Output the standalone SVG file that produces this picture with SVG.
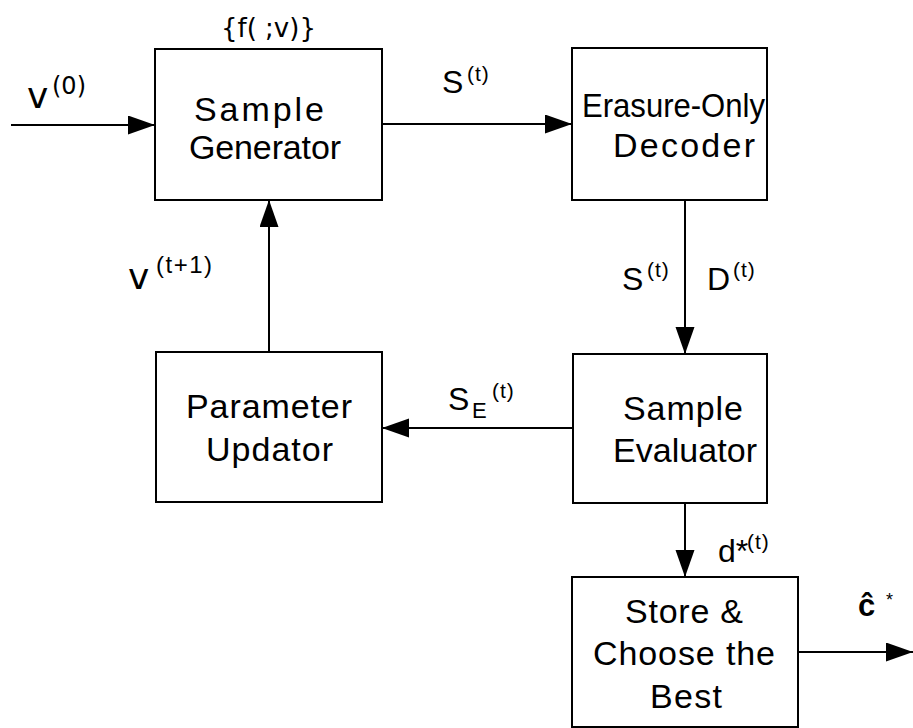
<svg xmlns="http://www.w3.org/2000/svg" width="913" height="728" viewBox="0 0 913 728">
<style>
.box{fill:#fff;stroke:#000;stroke-width:2}
.t{font-family:"Liberation Sans",Arial,sans-serif;font-size:34px;fill:#000}
.lb{font-family:"Liberation Sans",Arial,sans-serif;fill:#000}
.dv{font-family:"DejaVu Sans",sans-serif;fill:#000}
.c{stroke:#000;stroke-width:2;fill:none}
</style>
<defs>
<marker id="ah" markerUnits="userSpaceOnUse" markerWidth="28" markerHeight="20" refX="27" refY="9.5" orient="auto">
<path d="M0,0 L27,9.5 L0,19 z" fill="#000"/>
</marker>
</defs>
<g id="connectors">
<line class="c" x1="11" y1="125" x2="155" y2="125" marker-end="url(#ah)"/>
<line class="c" x1="382" y1="124" x2="572" y2="124" marker-end="url(#ah)"/>
<line class="c" x1="685" y1="200" x2="685" y2="354" marker-end="url(#ah)"/>
<line class="c" x1="573" y1="428" x2="382" y2="428" marker-end="url(#ah)"/>
<line class="c" x1="269" y1="352" x2="269" y2="200" marker-end="url(#ah)"/>
<line class="c" x1="685" y1="503" x2="685" y2="577" marker-end="url(#ah)"/>
<line class="c" x1="798" y1="652" x2="913" y2="652" marker-end="url(#ah)"/>
</g>
<g id="labels">
<text class="dv" x="221" y="37" font-size="26">{f( ;v)}</text>
<text class="dv" x="27" y="108" font-size="36">v</text>
<text class="dv" x="52" y="94" font-size="24">(0)</text>
<text class="lb" x="442" y="93" font-size="32">S</text>
<text class="lb" x="467" y="81" font-size="21" letter-spacing="1">(t)</text>
<text class="lb" x="622" y="290" font-size="32">S</text>
<text class="lb" x="647" y="277" font-size="21" letter-spacing="1">(t)</text>
<text class="lb" x="707" y="290" font-size="32">D</text>
<text class="lb" x="733" y="277" font-size="21" letter-spacing="1">(t)</text>
<text class="dv" x="128" y="289" font-size="36">v</text>
<text class="lb" x="156" y="273" font-size="24" letter-spacing="1.5">(t+1)</text>
<text class="lb" x="448" y="410" font-size="32">S</text>
<text class="lb" x="472" y="418" font-size="22">E</text>
<text class="lb" x="492" y="398" font-size="21" letter-spacing="1">(t)</text>
<text class="lb" x="718" y="562" font-size="32">d*</text>
<text class="lb" x="747" y="549" font-size="21" letter-spacing="1">(t)</text>
<text class="lb" x="858" y="616" font-size="31" font-weight="bold">ĉ</text>
<text class="lb" x="886" y="606" font-size="18">*</text>
</g>
<g id="sample-generator">
<rect class="box" x="155" y="49" width="227" height="151"/>
<text class="t" x="194" y="121" textLength="130" lengthAdjust="spacing">Sample</text>
<text class="t" x="189" y="159" textLength="152" lengthAdjust="spacing">Generator</text>
</g>
<g id="erasure-only-decoder">
<rect class="box" x="572" y="48" width="195" height="152"/>
<text class="t" x="582" y="117" textLength="183" lengthAdjust="spacingAndGlyphs">Erasure-Only</text>
<text class="t" x="613" y="157" textLength="142" lengthAdjust="spacing">Decoder</text>
</g>
<g id="sample-evaluator">
<rect class="box" x="573" y="354" width="194" height="149"/>
<text class="t" x="623" y="420" textLength="120" lengthAdjust="spacing">Sample</text>
<text class="t" x="613" y="462" textLength="144" lengthAdjust="spacing">Evaluator</text>
</g>
<g id="parameter-updator">
<rect class="box" x="156" y="352" width="226" height="150"/>
<text class="t" x="186" y="418" textLength="166" lengthAdjust="spacing">Parameter</text>
<text class="t" x="206" y="461" textLength="127" lengthAdjust="spacing">Updator</text>
</g>
<g id="store-choose-best">
<rect class="box" x="572" y="577" width="226" height="150"/>
<text class="t" x="625" y="623" textLength="118" lengthAdjust="spacing">Store &amp;</text>
<text class="t" x="593" y="665" textLength="182" lengthAdjust="spacing">Choose the</text>
<text class="t" x="650" y="708" textLength="72" lengthAdjust="spacing">Best</text>
</g>
</svg>
